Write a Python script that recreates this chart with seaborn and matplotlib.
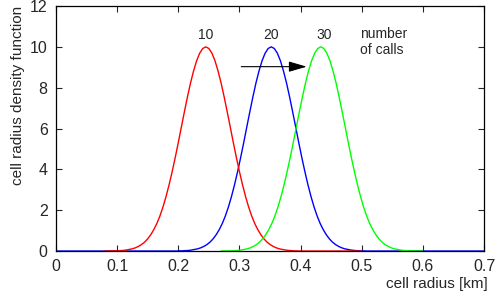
import matplotlib
matplotlib.use("Agg")
import matplotlib.pyplot as plt
import seaborn as sns
import pandas as pd

# curve samples (density vs cell radius in km)
red_x = [0.08, 0.1, 0.105, 0.11,
         0.115, 0.12, 0.125, 0.13, 0.135, 0.14, 0.145, 0.15, 0.155, 0.16,
         0.165, 0.17, 0.175, 0.18, 0.185, 0.19, 0.195, 0.2, 0.205, 0.21,
         0.215, 0.22, 0.225, 0.23, 0.235, 0.24, 0.245, 0.25, 0.255, 0.26,
         0.265, 0.27, 0.275, 0.28, 0.285, 0.29, 0.295, 0.3, 0.305, 0.31,
         0.315, 0.32, 0.325, 0.33, 0.335, 0.34, 0.345, 0.35, 0.355, 0.36,
         0.365, 0.37, 0.375,
         0.38, 0.385, 0.39, 0.4, 0.5]
red_y = [0.0, 0.01, 0.02, 0.03,
         0.05, 0.08, 0.11, 0.16, 0.23, 0.32, 0.44, 0.60, 0.80, 1.05,
         1.35, 1.72, 2.16, 2.67, 3.25, 3.89, 4.58, 5.31, 6.07, 6.82,
         7.55, 8.23, 8.82, 9.32, 9.69, 9.92, 10.0, 9.92, 9.69, 9.32,
         8.82, 8.23, 7.55, 6.82, 6.07, 5.31, 4.58, 3.89, 3.25, 2.67,
         2.16, 1.72, 1.35, 1.05, 0.80, 0.60, 0.44, 0.32, 0.23, 0.16,
         0.11, 0.08, 0.05,
         0.03, 0.02, 0.01, 0.0, 0.0]

blue_x = [0.0, 0.197, 0.202, 0.207, 0.212, 0.217,
          0.222, 0.227, 0.232, 0.237, 0.242, 0.247, 0.252, 0.257, 0.262,
          0.267, 0.272, 0.277, 0.282, 0.287, 0.292, 0.297, 0.302, 0.307,
          0.312, 0.317, 0.322, 0.327, 0.332, 0.337, 0.342, 0.347, 0.352,
          0.357, 0.362, 0.367, 0.372, 0.377, 0.382, 0.387, 0.392, 0.397,
          0.402, 0.407, 0.412, 0.417, 0.422, 0.427, 0.432, 0.437, 0.442,
          0.447, 0.452, 0.457, 0.462, 0.467, 0.472, 0.477, 0.482,
          0.487, 0.492, 0.497, 0.502, 0.507, 0.7]
blue_y = [0.0, 0.0, 0.01, 0.01, 0.02, 0.03,
          0.05, 0.08, 0.11, 0.16, 0.23, 0.32, 0.44, 0.60, 0.80,
          1.05, 1.35, 1.72, 2.16, 2.67, 3.25, 3.89, 4.58, 5.31,
          6.07, 6.82, 7.55, 8.23, 8.82, 9.32, 9.69, 9.92, 10.0,
          9.92, 9.69, 9.32, 8.82, 8.23, 7.55, 6.82, 6.07, 5.31,
          4.58, 3.89, 3.25, 2.67, 2.16, 1.72, 1.35, 1.05, 0.80,
          0.60, 0.44, 0.32, 0.23, 0.16, 0.11, 0.08, 0.05,
          0.03, 0.02, 0.01, 0.01, 0.0, 0.0]

green_x = [0.27, 0.283, 0.288, 0.293, 0.298,
           0.303, 0.308, 0.313, 0.318, 0.323, 0.328, 0.333, 0.338, 0.343,
           0.348, 0.353, 0.358, 0.363, 0.368, 0.373, 0.378, 0.383, 0.388,
           0.393, 0.398, 0.403, 0.408, 0.413, 0.418, 0.423, 0.428, 0.433,
           0.438, 0.443, 0.448, 0.453, 0.458, 0.463, 0.468, 0.473, 0.478,
           0.483, 0.488, 0.493, 0.498, 0.503, 0.508, 0.513, 0.518, 0.523,
           0.528, 0.533, 0.538, 0.543, 0.548, 0.553, 0.558, 0.563,
           0.568, 0.573, 0.578, 0.583, 0.6]
green_y = [0.0, 0.01, 0.01, 0.02, 0.03,
           0.05, 0.08, 0.11, 0.16, 0.23, 0.32, 0.44, 0.60, 0.80,
           1.05, 1.35, 1.72, 2.16, 2.67, 3.25, 3.89, 4.58, 5.31,
           6.07, 6.82, 7.55, 8.23, 8.82, 9.32, 9.69, 9.92, 10.0,
           9.92, 9.69, 9.32, 8.82, 8.23, 7.55, 6.82, 6.07, 5.31,
           4.58, 3.89, 3.25, 2.67, 2.16, 1.72, 1.35, 1.05, 0.80,
           0.60, 0.44, 0.32, 0.23, 0.16, 0.11, 0.08, 0.05,
           0.03, 0.02, 0.01, 0.01, 0.0]

call_labels = ["10", "20", "30"]
label_x = [0.245, 0.352, 0.438]
xticks = [0, 0.1, 0.2, 0.3, 0.4, 0.5, 0.6, 0.7]
xtick_labels = ["0", "0.1", "0.2", "0.3", "0.4", "0.5", "0.6", "0.7"]
yticks = [0, 2, 4, 6, 8, 10, 12]

df = pd.concat([
    pd.DataFrame({"x": blue_x, "y": blue_y, "curve": "20"}),
    pd.DataFrame({"x": red_x, "y": red_y, "curve": "10"}),
    pd.DataFrame({"x": green_x, "y": green_y, "curve": "30"}),
])

sns.set_style("ticks")
plt.rcParams["font.family"] = ["Liberation Sans", "DejaVu Sans"]

fig = plt.figure(figsize=(4.98, 3.01), dpi=100)
ax = fig.add_axes([0.1124, 0.166, 0.8596, 0.814])

sns.lineplot(data=df, x="x", y="y", hue="curve", hue_order=["20", "10", "30"],
             palette={"10": "#ff0000", "20": "#0000ff", "30": "#00ff00"},
             sort=False, estimator=None, linewidth=1.0, legend=False, ax=ax)

for lab, px in zip(call_labels, label_x):
    ax.text(px, 10.6, lab, ha="center", va="center", fontsize=10)
ax.text(0.497, 10.25, "number\nof calls", ha="left", va="center", fontsize=10,
        linespacing=1.2)
ax.annotate("", xy=(0.41, 9.03), xytext=(0.303, 9.03),
            arrowprops=dict(arrowstyle="-|>,head_length=0.55,head_width=0.16",
                            color="black", lw=0.8, mutation_scale=20,
                            shrinkA=0, shrinkB=0))

ax.set_xlim(0, 0.7)
ax.set_ylim(0, 12)
ax.set_xticks(xticks)
ax.set_xticklabels(xtick_labels)
ax.set_yticks(yticks)
ax.tick_params(direction="in", length=4, width=0.8, top=True, right=True,
               labelsize=11.5, pad=6)
for s in ax.spines.values():
    s.set_linewidth(0.9)
    s.set_color("black")
ax.set_xlabel("cell radius [km]", loc="right", fontsize=11)
ax.set_ylabel("cell radius density function", loc="top", fontsize=11)
ax.xaxis.set_label_coords(1.009, -0.105)
ax.yaxis.set_label_coords(-0.073, 1.0)

fig.savefig("out.png", dpi=100)
